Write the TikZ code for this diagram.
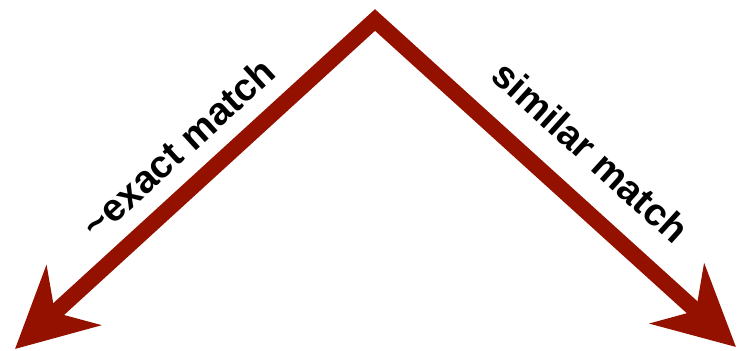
\documentclass[tikz,border=0pt]{standalone}
\usepackage{fontspec}
\setmainfont{Liberation Sans}
\usepackage{tikz}
\definecolor{darkred}{HTML}{941100}
\usetikzlibrary{arrows.meta}

\begin{document}
\begin{tikzpicture}[x=1pt,y=1pt,
  arr/.style={{Stealth[length=79pt,width=80pt,inset=25pt]}-{Stealth[length=79pt,width=80pt,inset=25pt]},
              color=darkred,line width=16pt,line join=miter},
  lbl/.style={sloped,inner sep=0pt,text=black,
              font=\bfseries\fontsize{38.5}{40}\selectfont}]
  \useasboundingbox (0,0) rectangle (737,351);
  \coordinate (apex) at (375,331);
  \coordinate (lend) at (15,2);
  \coordinate (rend) at (736,4);
  \draw[arr](lend)--(apex)--(rend);
  % labels along the two arrows
  \path (apex)--node[lbl,pos=0.475,above=24pt](exact){\textasciitilde exact match}(lend);
  \path (apex)--node[lbl,pos=0.51,above=33pt](similar){similar match}(rend);
\end{tikzpicture}
\end{document}
